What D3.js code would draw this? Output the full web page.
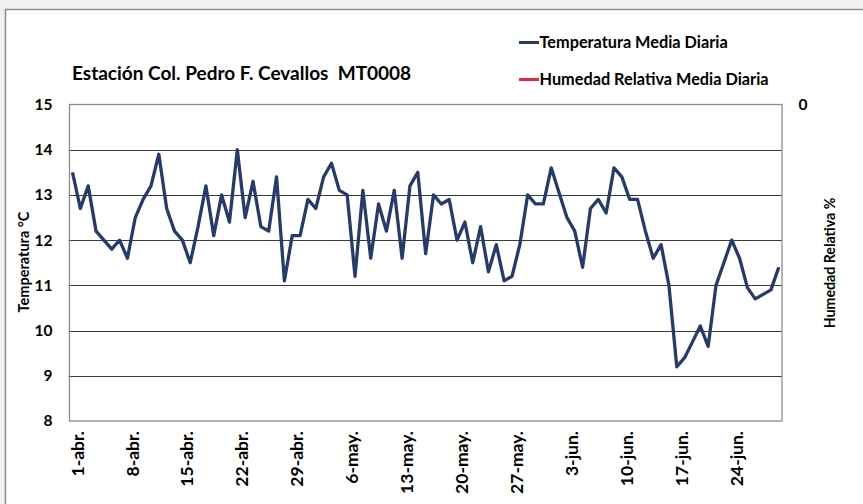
<!DOCTYPE html>
<html>
<head>
<meta charset="utf-8">
<script src="https://cdn.jsdelivr.net/npm/d3@7"></script>
<style>
  html, body { margin: 0; padding: 0; background: #f0f0f0; }
  svg { display: block; }
  text { font-family: Lato, "Open Sans", sans-serif; font-weight: 700; fill: #000; }
</style>
</head>
<body>
<div id="chart"></div>
<script>
// Daily mean temperature, 1 Apr - 30 Jun
const startDate = new Date(2019, 3, 1);
const endDate = new Date(2019, 6, 1);
const temperatura = [
  13.5, 12.7, 13.2, 12.2, 12.0, 11.8, 12.0, 11.6, 12.5, 12.9,
  13.2, 13.9, 12.7, 12.2, 12.0, 11.5, 12.3, 13.2, 12.1, 13.0,
  12.4, 14.0, 12.5, 13.3, 12.3, 12.2, 13.4, 11.1, 12.1, 12.1,
  12.9, 12.7, 13.4, 13.7, 13.1, 13.0, 11.2, 13.1, 11.6, 12.8,
  12.2, 13.1, 11.6, 13.2, 13.5, 11.7, 13.0, 12.8, 12.9, 12.0,
  12.4, 11.5, 12.3, 11.3, 11.9, 11.1, 11.2, 11.9, 13.0, 12.8,
  12.8, 13.6, 13.05, 12.5, 12.2, 11.4, 12.7, 12.9, 12.6, 13.6,
  13.4, 12.9, 12.9, 12.2, 11.6, 11.9, 11.0, 9.2, 9.4, 9.75,
  10.1, 9.65, 11.0, 11.5, 12.0, 11.6, 10.95, 10.7, 10.8, 10.9,
  11.4
];
const xTickLabels = [
  "1-abr.", "8-abr.", "15-abr.", "22-abr.", "29-abr.", "6-may.", "13-may.",
  "20-may.", "27-may.", "3-jun.", "10-jun.", "17-jun.", "24-jun."
];
const yTicks = [8, 9, 10, 11, 12, 13, 14, 15];
const rightTicks = [0];
const seriesNames = ["Temperatura Media Diaria", "Humedad Relativa Media Diaria"];
const seriesColors = ["#263a6b", "#e8283c"];

const dates = d3.timeDay.range(startDate, endDate);
const data = dates.map((d, i) => ({ date: d, value: temperatura[i] }));

const width = 863;
const height = 504;
const plotLeft = 69.5, plotRight = 782, plotTop = 104.5, plotBottom = 421;

const svg = d3.select("#chart")
  .append("svg")
  .attr("width", width)
  .attr("height", height)
  .attr("viewBox", [0, 0, width, height]);

// chart area box (runs past the window on right and bottom)
svg.append("rect")
  .attr("x", 5.5).attr("y", 9.5)
  .attr("width", 900).attr("height", 520)
  .attr("fill", "#fff")
  .attr("stroke", "#8c8c8c")
  .attr("stroke-width", 1.5);

const x = d3.scalePoint()
  .domain(d3.range(data.length))
  .range([72.5, 778.8]);

const y = d3.scaleLinear()
  .domain([8, 15])
  .range([plotBottom, plotTop]);

// gridlines
svg.append("g")
  .selectAll("line")
  .data(yTicks.filter(t => t > 8 && t < 15))
  .join("line")
  .attr("x1", plotLeft - 1)
  .attr("x2", plotRight)
  .attr("y1", d => Math.round(y(d)) + 0.5)
  .attr("y2", d => Math.round(y(d)) + 0.5)
  .attr("stroke", "#3a3a3a")
  .attr("stroke-width", 1);

// plot frame
svg.append("rect")
  .attr("x", plotLeft).attr("y", plotTop)
  .attr("width", plotRight - plotLeft)
  .attr("height", plotBottom - plotTop)
  .attr("fill", "none")
  .attr("stroke", "#8c8c8c")
  .attr("stroke-width", 1.3);

// left axis
const yAxis = d3.axisLeft(y)
  .tickValues(yTicks)
  .tickFormat(d3.format("d"))
  .tickSize(0)
  .tickPadding(17);
svg.append("g")
  .attr("transform", `translate(${plotLeft},0)`)
  .call(yAxis)
  .call(g => g.select(".domain").remove())
  .selectAll("text")
  .attr("font-size", 15.5)
  .attr("font-family", "Lato, sans-serif")
  .attr("font-weight", 700)
  .attr("fill", "#000");

// right axis (empty humidity axis)
svg.append("g")
  .selectAll("text")
  .data(rightTicks)
  .join("text")
  .attr("x", 803)
  .attr("y", plotTop)
  .attr("dy", "0.35em")
  .attr("text-anchor", "middle")
  .attr("font-size", 15.5)
  .text(d => d);

// bottom axis: a label every 7 days
const xAxis = d3.axisBottom(x)
  .tickValues(d3.range(0, data.length, 7).slice(0, xTickLabels.length))
  .tickSize(0)
  .tickFormat((d, i) => xTickLabels[i]);

svg.append("g")
  .attr("transform", `translate(0,${plotBottom})`)
  .call(xAxis)
  .call(g => g.select(".domain").remove())
  .selectAll("text")
  .attr("font-size", 17.5)
  .attr("font-family", "Lato, sans-serif")
  .attr("font-weight", 700)
  .attr("fill", "#000")
  .attr("text-anchor", "end")
  .attr("transform", "translate(4.5,10) rotate(-90)")
  .attr("x", 0)
  .attr("y", 0)
  .attr("dy", "0.35em");

// temperature line
const line = d3.line()
  .x((d, i) => x(i))
  .y(d => y(d.value));

svg.append("path")
  .datum(data)
  .attr("fill", "none")
  .attr("stroke", seriesColors[0])
  .attr("stroke-width", 3.3)
  .attr("stroke-linejoin", "round")
  .attr("d", line);

// title
svg.append("text")
  .attr("x", 72)
  .attr("y", 80)
  .attr("font-size", 19)
  .text("Estación Col. Pedro F. Cevallos\u00a0\u00a0MT0008");

// axis titles
svg.append("text")
  .attr("transform", `translate(29,262) rotate(-90)`)
  .attr("text-anchor", "middle")
  .attr("font-size", 14.5)
  .text("Temperatura °C");

svg.append("text")
  .attr("transform", `translate(835,263) rotate(-90)`)
  .attr("text-anchor", "middle")
  .attr("font-size", 14.2)
  .text("Humedad Relativa %");

// legend
const legend = svg.append("g")
  .selectAll("g")
  .data(seriesNames)
  .join("g")
  .attr("transform", (d, i) => `translate(519,${42.5 + i * 37})`);

legend.append("line")
  .attr("x1", 0).attr("x2", 20)
  .attr("stroke", (d, i) => seriesColors[i])
  .attr("stroke-width", 3);

legend.append("text")
  .attr("x", 20.5)
  .attr("dy", "0.36em")
  .attr("font-size", 16.3)
  .text(d => d);
</script>
</body>
</html>
